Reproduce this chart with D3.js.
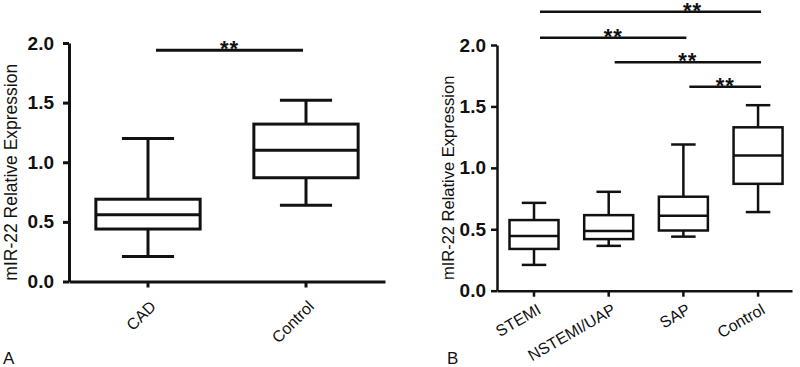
<!DOCTYPE html>
<html>
<head>
<meta charset="utf-8">
<script src="https://cdn.jsdelivr.net/npm/d3@7"></script>
<style>
  body { margin: 0; background: #fff; }
  svg { display: block; font-family: "Liberation Sans", Arial, sans-serif; }
</style>
</head>
<body>
<svg id="chart" width="800" height="367"></svg>
<script>
// panel A
const categoriesA = ["CAD", "Control"];
const minA = [0.21, 0.64];
const q1A = [0.44, 0.87];
const medianA = [0.56, 1.10];
const q3A = [0.69, 1.32];
const maxA = [1.20, 1.52];
// significance bars: [from, to, level]
const sigA = [["CAD", "Control", 1.94]];
const sigStarA = [0.5];

// panel B
const categoriesB = ["STEMI", "NSTEMI/UAP", "SAP", "Control"];
const minB = [0.21, 0.365, 0.44, 0.64];
const q1B = [0.34, 0.42, 0.49, 0.87];
const medianB = [0.445, 0.485, 0.61, 1.10];
const q3B = [0.575, 0.615, 0.765, 1.33];
const maxB = [0.715, 0.805, 1.19, 1.51];
const sigB = [
  ["STEMI", "Control", 2.27],
  ["STEMI", "SAP", 2.06],
  ["NSTEMI/UAP", "Control", 1.86],
  ["SAP", "Control", 1.66]
];
const sigStarB = [0.69, 0.5, 0.5, 0.5];

const yTicks = [0, 0.5, 1.0, 1.5, 2.0];
const yTitle = "mIR-22 Relative Expression";

const svg = d3.select('#chart');

function drawPanel(opt) {
  const g = svg.append('g');
  const x = d3.scaleBand()
    .domain(opt.cats)
    .range([opt.left, opt.right])
    .paddingInner(opt.padIn)
    .paddingOuter(opt.padOut)
    .align(opt.align);
  const y = d3.scaleLinear().domain([0, 2]).range([opt.bottom, opt.top]);
  const bw = x.bandwidth();
  const sw = opt.sw;

  // y axis
  const yAxis = g.append('g')
    .attr('transform', `translate(${opt.left},0)`)
    .call(d3.axisLeft(y).tickValues(yTicks).tickFormat(d3.format('.1f'))
      .tickSize(6).tickSizeOuter(0).tickPadding(opt.tickPad));
  yAxis.selectAll('path, line').attr('stroke', '#111').attr('stroke-width', sw);
  yAxis.selectAll('text')
    .attr('font-size', 19).attr('font-weight', 'bold').attr('fill', '#111')
    .attr('font-family', '"Liberation Sans", Arial, sans-serif');

  // x axis, labels drawn by hand so they can be rotated
  const xAxis = g.append('g')
    .attr('transform', `translate(0,${opt.bottom})`)
    .call(d3.axisBottom(x).tickSize(6).tickSizeOuter(0).tickFormat(''));
  xAxis.selectAll('path, line').attr('stroke', '#111').attr('stroke-width', sw);
  xAxis.selectAll('.tick text').remove();
  g.selectAll('.xlabel').data(opt.cats).enter().append('text')
    .attr('class', 'xlabel')
    .attr('transform', d => `translate(${x(d) + bw / 2 + opt.lblDx},${opt.bottom + opt.lblDy}) rotate(${opt.lblRot})`)
    .attr('text-anchor', 'end')
    .attr('font-size', 16)
    .attr('fill', '#111')
    .text(d => d);

  // y title
  g.append('text')
    .attr('transform', `translate(${opt.titleX},${(opt.top + opt.bottom) / 2 + 10}) rotate(-90)`)
    .attr('text-anchor', 'middle')
    .attr('dominant-baseline', 'middle')
    .attr('font-size', opt.titleSize)
    .attr('fill', '#111')
    .text(yTitle);

  // boxes
  const rows = opt.cats.map((c, i) => ({
    c, min: opt.min[i], q1: opt.q1[i], med: opt.med[i], q3: opt.q3[i], max: opt.max[i]
  }));
  const box = g.selectAll('.box').data(rows).enter().append('g')
    .attr('fill', 'none').attr('stroke', '#111').attr('stroke-width', sw);
  box.append('line')
    .attr('x1', d => x(d.c) + bw / 2).attr('x2', d => x(d.c) + bw / 2)
    .attr('y1', d => y(d.max)).attr('y2', d => y(d.q3));
  box.append('line')
    .attr('x1', d => x(d.c) + bw / 2).attr('x2', d => x(d.c) + bw / 2)
    .attr('y1', d => y(d.q1)).attr('y2', d => y(d.min));
  box.append('line')
    .attr('x1', d => x(d.c) + bw / 4).attr('x2', d => x(d.c) + bw * 3 / 4)
    .attr('y1', d => y(d.max)).attr('y2', d => y(d.max));
  box.append('line')
    .attr('x1', d => x(d.c) + bw / 4).attr('x2', d => x(d.c) + bw * 3 / 4)
    .attr('y1', d => y(d.min)).attr('y2', d => y(d.min));
  box.append('rect')
    .attr('x', d => x(d.c)).attr('width', bw)
    .attr('y', d => y(d.q3)).attr('height', d => y(d.q1) - y(d.q3));
  box.append('line')
    .attr('x1', d => x(d.c)).attr('x2', d => x(d.c) + bw)
    .attr('y1', d => y(d.med)).attr('y2', d => y(d.med));

  // significance bars
  opt.sig.forEach((s, i) => {
    const x1 = x(s[0]) + bw / 2 + opt.sigPad[0];
    const x2 = x(s[1]) + bw / 2 + opt.sigPad[1];
    const yy = y(s[2]);
    g.append('line')
      .attr('x1', x1).attr('x2', x2).attr('y1', yy).attr('y2', yy)
      .attr('stroke', '#111').attr('stroke-width', sw);
    g.append('text')
      .attr('x', x1 + (x2 - x1) * opt.star[i])
      .attr('y', yy + 6)
      .attr('text-anchor', 'middle')
      .attr('font-size', 22)
      .attr('font-weight', 'bold')
      .attr('letter-spacing', 1)
      .attr('fill', '#111')
      .text('**');
  });

  // panel letter
  g.append('text')
    .attr('x', opt.letterX).attr('y', 364)
    .attr('font-size', 17).attr('fill', '#111')
    .text(opt.letter);
}

drawPanel({
  cats: categoriesA, min: minA, q1: q1A, med: medianA, q3: q3A, max: maxA,
  sig: sigA, star: sigStarA, sigPad: [8, -3],
  left: 69, right: 385, top: 43, bottom: 281.5,
  padIn: 0.34, padOut: 0.17, align: 0.5, sw: 3, tickPad: 9,
  lblDx: 9, lblDy: 26, lblRot: -45,
  titleX: 12, titleSize: 17.5, letter: 'A', letterX: 3
});

drawPanel({
  cats: categoriesB, min: minB, q1: q1B, med: medianB, q3: q3B, max: maxB,
  sig: sigB, star: sigStarB, sigPad: [6, 3],
  left: 497, right: 792, top: 45, bottom: 290.7,
  padIn: 0.344, padOut: 0.147, align: 0.57, sw: 2.5, tickPad: 5,
  lblDx: 8, lblDy: 22, lblRot: -30,
  titleX: 450, titleSize: 16.5, letter: 'B', letterX: 447
});
</script>
</body>
</html>
